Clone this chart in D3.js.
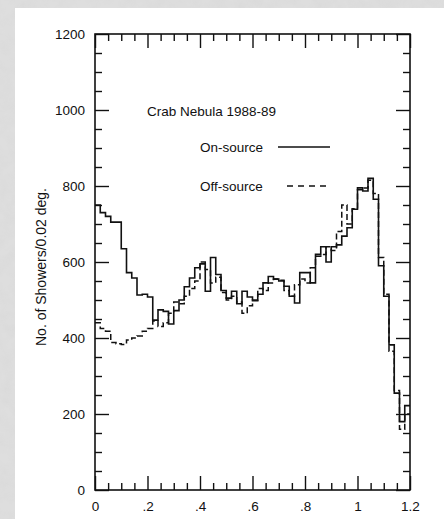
<!DOCTYPE html>
<html>
<head>
<meta charset="utf-8">
<title>Crab Nebula 1988-89</title>
<script src="https://d3js.org/d3.v7.min.js"></script>
<style>
  html, body { margin: 0; padding: 0; background: #dcdcdc; }
  svg { display: block; }
  text { font-family: "Liberation Sans", Arial, Helvetica, sans-serif; fill: #111; }
</style>
</head>
<body>
<div id="chart"></div>
<script>
// histogram bins: 0.02 deg wide, from 0 to 1.2
const binWidth = 0.02;

// on-source counts per bin
const onSource = [750, 730, 720, 705, 705, 635, 572, 558, 513, 515,
                  508, 447, 474, 470, 437, 472, 500, 535, 558, 585,
                  595, 523, 612, 567, 525, 505, 523, 490, 523, 508,
                  498, 515, 545, 562, 555, 550, 536, 510, 492, 572,
                  572, 545, 620, 640, 600, 640, 645, 668, 690, 739,
                  795, 787, 820, 765, 590, 510, 382, 255, 180, 222];

// off-source counts per bin
const offSource = [440, 425, 418, 388, 385, 383, 395, 400, 405, 418,
                   425, 445, 430, 440, 465, 495, 490, 510, 530, 550,
                   600, 580, 545, 560, 520, 500, 510, 495, 465, 485,
                   500, 530, 525, 545, 555, 552, 525, 510, 540, 555,
                   545, 585, 615, 620, 640, 630, 680, 750, 700, 740,
                   790, 795, 815, 780, 612, 515, 365, 262, 160, 200];

const xTicks = [0, 0.2, 0.4, 0.6, 0.8, 1.0, 1.2];
const xTickLabels = ["0", ".2", ".4", ".6", ".8", "1", "1.2"];
const yTicks = [0, 200, 400, 600, 800, 1000, 1200];

const width = 444, height = 519;

const svg = d3.select("#chart").append("svg")
  .attr("width", width)
  .attr("height", height);

// paper texture round the page
const defs = svg.append("defs");
const f = defs.append("filter").attr("id", "grain")
  .attr("x", 0).attr("y", 0).attr("width", "100%").attr("height", "100%");
f.append("feTurbulence").attr("type", "fractalNoise")
  .attr("baseFrequency", 0.08).attr("numOctaves", 3).attr("seed", 4);
f.append("feColorMatrix").attr("type", "matrix")
  .attr("values", "0 0 0 0 0.6  0 0 0 0 0.6  0 0 0 0 0.6  0 0 0 0.7 -0.2");

svg.append("rect").attr("width", width).attr("height", height).attr("fill", "#dedede");
svg.append("rect").attr("width", width).attr("height", height)
  .attr("filter", "url(#grain)").attr("opacity", 0.45);

// white page
svg.append("rect")
  .attr("x", 15).attr("y", 8)
  .attr("width", width - 15).attr("height", height - 8)
  .attr("fill", "#fff");

const x = d3.scaleLinear().domain([0, 1.2]).range([95, 410]);
const y = d3.scaleLinear().domain([0, 1200]).range([490, 34]);

const minorX = d3.range(0, 25).map(i => i * 0.05).filter(v => Math.abs(v / 0.2 - Math.round(v / 0.2)) > 1e-6);
const minorY = d3.range(0, 25).map(i => i * 50).filter(v => v % 200 !== 0);

const major = 14, minor = 7;

function axisGroup(axis, tx, ty) {
  const g = svg.append("g")
    .attr("transform", "translate(" + tx + "," + ty + ")")
    .call(axis);
  g.select(".domain").remove();
  g.selectAll("line").attr("stroke", "#111").attr("stroke-width", 1.4);
  g.selectAll("text").style("font-size", "13.5px").attr("fill", "#111");
  return g;
}

// bottom
axisGroup(d3.axisBottom(x).tickValues(xTicks).tickSize(-major).tickPadding(7)
  .tickFormat((d, i) => xTickLabels[i]), 0, 490)
  .selectAll("text").attr("dy", "1.05em");
axisGroup(d3.axisBottom(x).tickValues(minorX).tickSize(-minor).tickFormat(""), 0, 490);
// top
axisGroup(d3.axisTop(x).tickValues(xTicks).tickSize(-major).tickFormat(""), 0, 34);
axisGroup(d3.axisTop(x).tickValues(minorX).tickSize(-minor).tickFormat(""), 0, 34);
// left
axisGroup(d3.axisLeft(y).tickValues(yTicks).tickSize(-major).tickPadding(10)
  .tickFormat(d3.format("d")), 95, 0);
axisGroup(d3.axisLeft(y).tickValues(minorY).tickSize(-minor).tickFormat(""), 95, 0);
// right
axisGroup(d3.axisRight(y).tickValues(yTicks).tickSize(-major).tickFormat(""), 410, 0);
axisGroup(d3.axisRight(y).tickValues(minorY).tickSize(-minor).tickFormat(""), 410, 0);

// frame
svg.append("rect")
  .attr("x", x(0)).attr("y", y(1200))
  .attr("width", x(1.2) - x(0)).attr("height", y(0) - y(1200))
  .attr("fill", "none").attr("stroke", "#111").attr("stroke-width", 1.6);

// step histograms
const stepLine = d3.line()
  .x(d => x(d[0]))
  .y(d => y(d[1]))
  .curve(d3.curveStepAfter);

function steps(vals) {
  const pts = vals.map((v, i) => [i * binWidth, v]);
  pts.push([vals.length * binWidth, vals[vals.length - 1]]);
  return pts;
}

svg.append("path")
  .attr("d", stepLine(steps(offSource)))
  .attr("fill", "none")
  .attr("stroke", "#111")
  .attr("stroke-width", 1.5)
  .attr("stroke-dasharray", "6,3");

svg.append("path")
  .attr("d", stepLine(steps(onSource)))
  .attr("fill", "none")
  .attr("stroke", "#111")
  .attr("stroke-width", 1.6);

// annotations
svg.append("text")
  .attr("x", 147).attr("y", 116)
  .style("font-size", "13.5px")
  .text("Crab Nebula 1988-89");

svg.append("text")
  .attr("x", 200).attr("y", 152)
  .style("font-size", "13.5px")
  .text("On-source");
svg.append("line")
  .attr("x1", 278).attr("x2", 330).attr("y1", 147).attr("y2", 147)
  .attr("stroke", "#111").attr("stroke-width", 1.6);

svg.append("text")
  .attr("x", 200).attr("y", 191)
  .style("font-size", "13.5px")
  .text("Off-source");
svg.append("line")
  .attr("x1", 287).attr("x2", 330).attr("y1", 186).attr("y2", 186)
  .attr("stroke", "#111").attr("stroke-width", 1.5)
  .attr("stroke-dasharray", "6,5");

// y axis title
svg.append("text")
  .attr("transform", "translate(46,267) rotate(-90)")
  .attr("text-anchor", "middle")
  .style("font-size", "14px")
  .text("No. of Showers/0.02 deg.");
</script>
</body>
</html>
